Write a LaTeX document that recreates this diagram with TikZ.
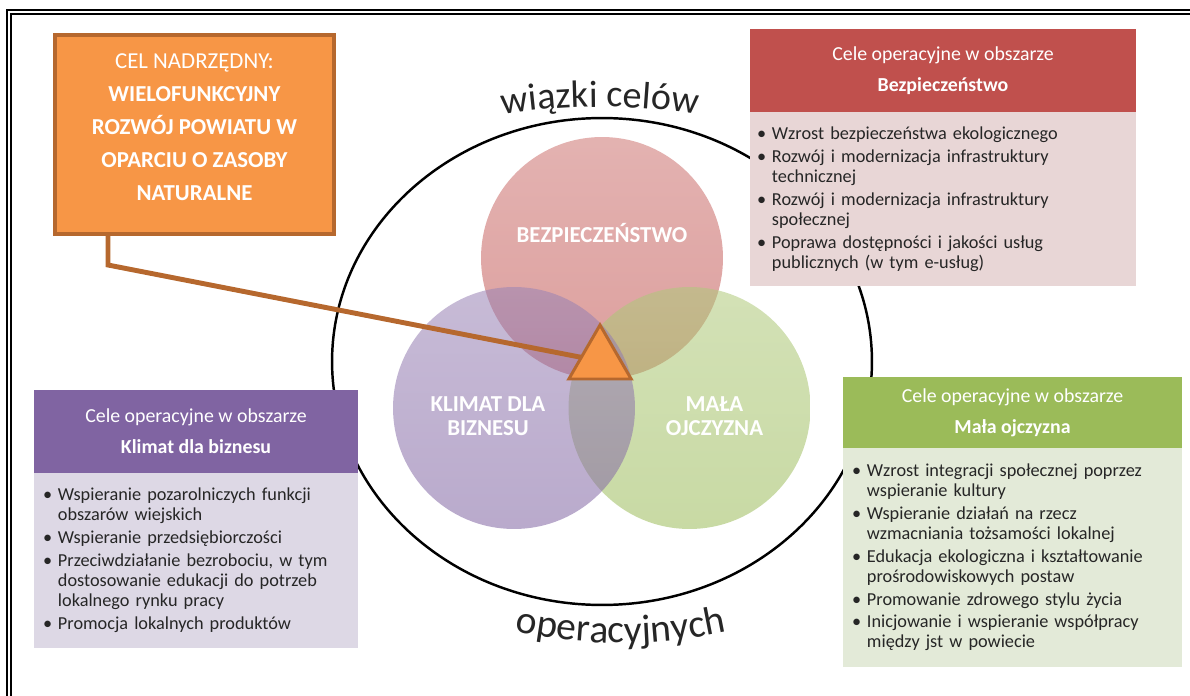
\documentclass[tikz,border=0pt]{standalone}
\usepackage{fontspec}
\setmainfont{Carlito}
\usetikzlibrary{positioning,shapes.geometric,decorations.text}

\definecolor{celorange}{RGB}{247,150,70}
\definecolor{celorangedark}{RGB}{182,104,46}
\definecolor{bezred}{RGB}{192,80,77}
\definecolor{bezredlight}{RGB}{232,214,214}
\definecolor{klimatpurple}{RGB}{128,100,162}
\definecolor{klimatpurplelight}{RGB}{221,216,229}
\definecolor{malagreen}{RGB}{155,187,89}
\definecolor{malagreenlight}{RGB}{227,234,216}
\definecolor{tekst}{RGB}{38,38,38}

\newcommand{\punkt}[1]{\hangindent=8.5pt\hangafter=1\noindent\makebox[8.5pt][l]{\textbullet}#1\par}

\begin{document}
\begin{tikzpicture}[x=0.02cm, y=0.02cm]
	\tikzstyle{celbox} = [rectangle, fill=celorange, draw=celorangedark, line width=2.3pt, minimum width=5.58cm, minimum height=3.98cm]
	\tikzstyle{celtext} = [text=white, align=center, font=\fontsize{13}{18.8}\selectfont]
	\tikzstyle{head} = [rectangle, inner sep=0pt, outer sep=0pt, text=white, align=center, font=\fontsize{11.3}{17.5}\selectfont]
	\tikzstyle{body} = [rectangle, outer sep=0pt, inner xsep=0.18cm, inner ysep=0pt, text=tekst, align=left, font={\fontsize{10.4}{11.4}\selectfont\setlength{\parskip}{1.6pt}}]
	\tikzstyle{bubble} = [circle, minimum size=4.84cm, inner sep=0pt, fill opacity=0.55]
	\tikzstyle{bubbletext} = [text=white, text opacity=1, fill opacity=1, align=center, font=\bfseries\fontsize{13}{13.8}\selectfont]
	\useasboundingbox (0,0) rectangle (1190,-696);

	% ramka
	\draw[line width=1.1pt] (7,-696) -- (7,-10) -- (1190,-10);
	\draw[line width=1.1pt] (11,-696) -- (11,-14) -- (1190,-14);

	% wiazki celow
	\node (wiazki) [ellipse, draw, line width=1.4pt, minimum width=10.8cm, minimum height=9.74cm, inner sep=0pt] at (602,-361.5) {};
	\path[decorate, decoration={text along path, text align=center, text color=tekst,
		text={|\fontsize{21.7}{24}\selectfont|wiązki celów}}]
		(600,-732) ++(105:625) arc[start angle=105, end angle=75, radius=625];
	\path[decorate, decoration={text along path, text align=center, text color=tekst,
		text={|\fontsize{22.5}{24}\selectfont|operacyjnych}}]
		(621,-143) ++(250:500) arc[start angle=250, end angle=290, radius=500];

	\node (bez) [bubble, top color=bezred!80!white, bottom color=bezred,
		label={[bubbletext, yshift=0.5cm]center:BEZPIECZEŃSTWO}] at (602,-258) {};
	\node (mala) [bubble, top color=malagreen!80!white, bottom color=malagreen,
		label={[bubbletext, xshift=0.5cm, yshift=-0.16cm]center:{MAŁA\\OJCZYZNA}}] at (689.5,-408) {};
	\node (klimat) [bubble, top color=klimatpurple!80!white, bottom color=klimatpurple,
		label={[bubbletext, xshift=-0.52cm, yshift=-0.16cm]center:{KLIMAT DLA\\BIZNESU}}] at (514,-408) {};

	% cel nadrzedny
	\node (cel) [celbox, label={[celtext, yshift=0.15cm]center:{CEL NADRZĘDNY:\\\textbf{WIELOFUNKCYJNY}\\\textbf{ROZWÓJ POWIATU W}\\\textbf{OPARCIU O ZASOBY}\\\textbf{NATURALNE}}}] at (194.5,-134.5) {};
	\node (tri) [regular polygon, regular polygon sides=3, minimum size=1.44cm, inner sep=0pt] at (600,-361) {};
	\coordinate (knee) at (108,-265);
	\draw[celorangedark, line width=2.8pt] (cel.south -| knee) -- (knee) -- (tri.center);
	\node [regular polygon, regular polygon sides=3, minimum size=1.44cm, inner sep=0pt, fill=celorange, draw=celorangedark, line width=1.7pt] at (tri) {};

	% bezpieczenstwo
	\node (bezhead) [head, fill=bezred, minimum width=7.72cm, minimum height=1.66cm] at (943,-70.5) {Cele operacyjne w obszarze\\\textbf{Bezpieczeństwo}};
	\node (bezbody) [body, fill=bezredlight, inner xsep=0.14cm, text width=7.44cm, minimum height=3.48cm, below=0pt of bezhead] {%
		\punkt{Wzrost bezpieczeństwa ekologicznego}
		\punkt{Rozwój i modernizacja infrastruktury\newline technicznej}
		\punkt{Rozwój i modernizacja infrastruktury\newline społecznej}
		\punkt{Poprawa dostępności i jakości usług\newline publicznych (w tym e-usług)}};

	% klimat dla biznesu
	\node (klimathead) [head, fill=klimatpurple, minimum width=6.48cm, minimum height=1.66cm] at (196,-431.5) {Cele operacyjne w obszarze\\\textbf{Klimat dla biznesu}};
	\node (klimatbody) [body, fill=klimatpurplelight, text width=6.12cm, minimum height=3.5cm, below=0pt of klimathead] {%
		\punkt{Wspieranie pozarolniczych funkcji\newline obszarów wiejskich}
		\punkt{Wspieranie przedsiębiorczości}
		\punkt{Przeciwdziałanie bezrobociu, w tym\newline dostosowanie edukacji do potrzeb\newline lokalnego rynku pracy}
		\punkt{Promocja lokalnych produktów}};

	% mala ojczyzna
	\node (malahead) [head, fill=malagreen, minimum width=6.78cm, minimum height=1.42cm] at (1012.5,-412.5) {Cele operacyjne w obszarze\\\textbf{Mała ojczyzna}};
	\node (malabody) [body, fill=malagreenlight, text width=6.42cm, minimum height=4.38cm, below=0pt of malahead] {%
		\punkt{Wzrost integracji społecznej poprzez\newline wspieranie kultury}
		\punkt{Wspieranie działań na rzecz\newline wzmacniania tożsamości lokalnej}
		\punkt{Edukacja ekologiczna i kształtowanie\newline prośrodowiskowych postaw}
		\punkt{Promowanie zdrowego stylu życia}
		\punkt{Inicjowanie i wspieranie współpracy\newline między jst w powiecie}};
\end{tikzpicture}
\end{document}
